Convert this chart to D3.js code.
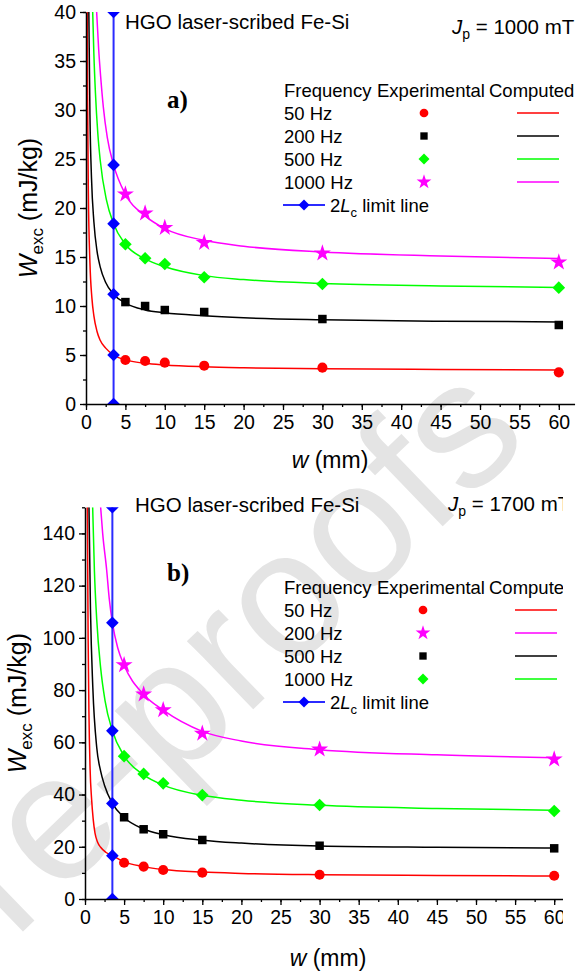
<!DOCTYPE html>
<html>
<head>
<meta charset="utf-8">
<title>Excess loss vs width</title>
<script src="https://d3js.org/d3.v7.min.js"></script>
<style>
  body { margin: 0; background: #fff; }
  text { font-family: "Liberation Sans", Arial, sans-serif; fill: #000; }
</style>
</head>
<body>
<div id="chart"></div>
<script>
// measured widths (mm) and the 2Lc limit
const wExp = [5, 7.5, 10, 15, 30, 60];
const limitW = 3.5;
const freqs = ["50 Hz", "200 Hz", "500 Hz", "1000 Hz"];

// panel a) Jp = 1000 mT, experimental points (mJ/kg)
const expA50 = [4.49, 4.39, 4.22, 3.91, 3.71, 3.23];
const expA200 = [10.4, 10.0, 9.59, 9.39, 8.67, 8.06];
const expA500 = [16.3, 14.87, 14.29, 12.93, 12.24, 11.87];
const expA1000 = [21.4, 19.46, 17.99, 16.46, 15.38, 14.46];
// panel a) computed curves [w, W]
const compA50 = [[0.15, 40], [0.2, 31], [0.3, 21.5], [0.5, 14.4], [0.75, 10.8], [1.0, 9.0], [1.4, 7.4], [1.8, 6.5], [2.5, 5.7], [3.5, 5.0], [5, 4.5], [7.5, 4.15], [10, 3.98], [15, 3.8], [20, 3.7], [30, 3.6], [45, 3.53], [60, 3.48]];
const compA200 = [[0.36, 40], [0.5, 29.5], [0.7, 23], [1.0, 18.6], [1.4, 15.6], [1.8, 14.0], [2.5, 12.4], [3.5, 11.2], [5, 10.3], [7.5, 9.6], [10, 9.3], [15, 9.0], [20, 8.8], [30, 8.6], [45, 8.45], [60, 8.38]];
const compA500 = [[0.85, 40], [1.0, 35.7], [1.2, 31.7], [1.5, 27.6], [1.8, 24.9], [2.6, 20.8], [3.5, 18.4], [5, 16.3], [7.5, 14.8], [10, 14.0], [15, 13.1], [20, 12.7], [30, 12.3], [45, 12.05], [60, 11.9]];
const compA1000 = [[1.35, 40], [1.6, 36.3], [1.86, 33.4], [2.2, 30.3], [2.7, 27.2], [3.5, 24.4], [5, 21.4], [7.5, 19.2], [10, 17.9], [15, 16.7], [20, 16.1], [30, 15.5], [45, 15.1], [60, 14.85]];
const limitA = [0, 5.0, 11.2, 18.4, 24.4, 40];

// panel b) Jp = 1700 mT, experimental points (mJ/kg)
const expB50 = [13.9, 12.4, 11.1, 10.1, 9.3, 8.9];
const expB200 = [89.6, 78.4, 72.4, 63.4, 57.3, 53.5];
const expB500 = [31.3, 26.7, 24.8, 22.6, 20.4, 19.4];
const expB1000 = [54.7, 47.9, 44.3, 39.8, 36.0, 33.7];
// panel b) computed curves [w, W]
const compB50 = [[0.3, 150], [0.4, 100], [0.5, 72], [0.65, 50], [0.85, 38], [1.05, 30.5], [1.28, 25.2], [1.6, 21.8], [2.0, 19.8], [2.7, 17.8], [3.5, 16.6], [5, 14.2], [7.5, 12.4], [10, 11.3], [15, 10.3], [20, 9.8], [30, 9.3], [45, 9.0], [60, 8.8]];
const compB200 = [[2.0, 150], [2.26, 140], [2.77, 126], [3.1, 115], [3.5, 105.8], [4.2, 96], [5, 89.5], [7.5, 78.3], [10, 72.3], [15, 64.2], [20, 60.5], [30, 57.2], [45, 55.2], [60, 54.1]];
const compB500 = [[0.51, 150], [0.7, 111], [1.0, 81], [1.5, 58], [2.0, 49], [2.5, 43.5], [3.5, 36.6], [5, 31.2], [7.5, 26.8], [10, 24.6], [15, 22.5], [20, 21.4], [30, 20.3], [45, 19.8], [60, 19.5]];
const compB1000 = [[0.98, 150], [1.2, 126], [1.5, 107], [2.0, 88.5], [2.56, 76], [3.5, 64.4], [5, 54.8], [7.5, 47.5], [10, 43.6], [15, 39.7], [20, 37.8], [30, 35.9], [45, 34.7], [60, 34.0]];
const limitB = [0, 16.6, 36.6, 64.4, 105.8, 150];

const W = 587, H = 976;
const svg = d3.select("#chart").append("svg")
    .attr("width", W).attr("height", H);

// faint watermark behind everything
svg.append("text")
    .attr("transform", "translate(532,440) rotate(-44)")
    .attr("text-anchor", "end")
    .style("font-size", "180px")
    .style("fill", "#e4e4e4")
    .text("Journal Pre-proofs");

function symbolPath(shape, size) {
    const types = { circle: d3.symbolCircle, square: d3.symbolSquare, diamond: d3.symbolSquare, star: d3.symbolStar };
    return d3.symbol().type(types[shape]).size(size)();
}

function marker(g, shape, color, cx, cy, size) {
    g.append("path")
        .attr("d", symbolPath(shape, size))
        .attr("transform", `translate(${cx},${cy})` + (shape === "diamond" ? " rotate(45)" : ""))
        .attr("fill", color);
}

function drawPanel(p) {
    const root = svg.append("g");
    if (p.cutX) {
        root.append("clipPath").attr("id", p.id + "-cut")
            .append("rect").attr("x", 0).attr("y", 0).attr("width", p.cutX).attr("height", H);
        root.attr("clip-path", `url(#${p.id}-cut)`);
    }
    const g = root.append("g");

    const x = d3.scaleLinear().domain([0, 62]).range([p.left, p.left + 62 * p.pxPerUnit]);
    const y = d3.scaleLinear().domain([0, p.yMax]).range([p.bottom, p.top]);

    g.append("clipPath").attr("id", p.id + "-plot")
        .append("rect")
        .attr("x", x(0)).attr("y", y(p.yMax))
        .attr("width", x(62) - x(0)).attr("height", y(0) - y(p.yMax));

    const plot = g.append("g").attr("clip-path", `url(#${p.id}-plot)`);

    // computed curves
    const line = d3.line().x(d => x(d[0])).y(d => y(d[1])).curve(d3.curveMonotoneX);
    p.series.forEach(s => {
        plot.append("path")
            .datum(s.comp)
            .attr("d", line)
            .attr("fill", "none")
            .attr("stroke", s.color)
            .attr("stroke-width", 1.5);
    });

    // experimental markers
    p.series.forEach(s => {
        s.exp.forEach((v, i) => marker(plot, s.shape, s.color, x(wExp[i]), y(v), s.size));
    });

    // 2Lc limit line
    plot.append("line")
        .attr("x1", x(limitW)).attr("x2", x(limitW))
        .attr("y1", y(0)).attr("y2", y(p.yMax))
        .attr("stroke", "#2b2bff").attr("stroke-width", 2);
    p.limit.forEach(v => marker(plot, "diamond", "#0000ff", x(limitW), y(v), 80));

    // axes
    const xMinor = d3.range(0, 62.01, 2.5);
    const yMinor = d3.range(0, p.yMax + 0.01, p.yStep / 2);
    g.append("g")
        .attr("transform", `translate(0,${y(0)})`)
        .call(d3.axisBottom(x).tickValues(xMinor).tickSize(3).tickSizeOuter(0).tickFormat(""))
        .call(a => a.select(".domain").remove())
        .selectAll("line").attr("stroke-width", 1.3);
    g.append("g")
        .attr("transform", `translate(${x(0)},0)`)
        .call(d3.axisLeft(y).tickValues(yMinor).tickSize(3).tickSizeOuter(0).tickFormat(""))
        .call(a => a.select(".domain").remove())
        .selectAll("line").attr("stroke-width", 1.3);

    const xAx = g.append("g")
        .attr("transform", `translate(0,${y(0)})`)
        .call(d3.axisBottom(x).tickValues(d3.range(0, 61, 5)).tickSize(6).tickSizeOuter(0).tickPadding(5));
    const yAx = g.append("g")
        .attr("transform", `translate(${x(0)},0)`)
        .call(d3.axisLeft(y).tickValues(d3.range(0, p.yLabelMax + 0.01, p.yStep)).tickSize(6).tickSizeOuter(0).tickPadding(4));
    [xAx, yAx].forEach(a => {
        a.selectAll("text").style("font-size", "19.5px").attr("fill", "#000")
            .style("font-family", "'Liberation Sans', Arial, sans-serif");
        a.selectAll("line").attr("stroke-width", 1.3);
        a.select(".domain").attr("stroke-width", 1.5);
    });

    // axis titles
    const yt = g.append("text")
        .attr("transform", `translate(${p.yTitleX},${(y(0) + y(p.yMax)) / 2}) rotate(-90)`)
        .attr("text-anchor", "middle")
        .style("font-size", "25px");
    yt.append("tspan").style("font-style", "italic").text("W");
    yt.append("tspan").attr("dy", 6).style("font-size", "17px").text("exc");
    yt.append("tspan").attr("dy", -6).text(" (mJ/kg)");

    const xt = g.append("text")
        .attr("x", p.xTitleX).attr("y", p.xTitleY)
        .attr("text-anchor", "middle")
        .style("font-size", "23px");
    xt.append("tspan").style("font-style", "italic").text("w");
    xt.append("tspan").text(" (mm)");

    // annotations
    g.append("text").attr("x", p.titleX).attr("y", p.titleY)
        .style("font-size", "20.5px").text("HGO laser-scribed Fe-Si");
    const jp = g.append("text").attr("x", p.jpX).attr("y", p.jpY).style("font-size", "20.5px");
    jp.append("tspan").style("font-style", "italic").text("J");
    jp.append("tspan").attr("dy", 5).style("font-size", "14px").text("p");
    jp.append("tspan").attr("dy", -5).text(` = ${p.jp} mT`);
    g.append("text").attr("x", 167).attr("y", p.tagY)
        .style("font-family", "'Liberation Serif', 'Times New Roman', serif")
        .style("font-weight", "bold").style("font-size", "25px")
        .text(p.tag);

    // legend table
    const L = g.append("g").style("font-size", "18.5px");
    L.append("text").attr("x", 284).attr("y", p.legY + 7).text("Frequency");
    L.append("text").attr("x", 377).attr("y", p.legY + 7).text("Experimental");
    L.append("text").attr("x", 489).attr("y", p.legY + 7).text("Computed");
    p.series.forEach((s, i) => {
        const cy = p.legY + 23 * (i + 1);
        L.append("text").attr("x", 284).attr("y", cy + 7).text(freqs[i]);
        marker(L, s.shape, s.color, p.legMarkX, cy, s.size * 0.75);
        L.append("line").attr("x1", p.legLineX).attr("x2", p.legLineX + 42)
            .attr("y1", cy).attr("y2", cy)
            .attr("stroke", s.color).attr("stroke-width", 1.5);
    });
    const cyL = p.legY + 23 * 5;
    L.append("line").attr("x1", 283).attr("x2", 325).attr("y1", cyL).attr("y2", cyL)
        .attr("stroke", "#2b2bff").attr("stroke-width", 2);
    marker(L, "diamond", "#0000ff", 304, cyL, 60);
    const lt = L.append("text").attr("x", 330).attr("y", cyL + 7);
    lt.append("tspan").text("2");
    lt.append("tspan").style("font-style", "italic").text("L");
    lt.append("tspan").attr("dy", 5).style("font-size", "13px").text("c");
    lt.append("tspan").attr("dy", -5).text(" limit line");
}

drawPanel({
    id: "pa", left: 86, pxPerUnit: 7.88, top: 12, bottom: 404, yMax: 40, yLabelMax: 40, yStep: 5,
    limit: limitA, jp: 1000, tag: "a)", tagY: 108,
    yTitleX: 37, xTitleX: 330, xTitleY: 468,
    titleX: 125, titleY: 29, jpX: 452, jpY: 34,
    legY: 90, legMarkX: 424, legLineX: 517,
    series: [
        { exp: expA50, comp: compA50, color: "#ff0000", shape: "circle", size: 80 },
        { exp: expA200, comp: compA200, color: "#000000", shape: "square", size: 72 },
        { exp: expA500, comp: compA500, color: "#00ff00", shape: "diamond", size: 80 },
        { exp: expA1000, comp: compA1000, color: "#ff00ff", shape: "star", size: 90 }
    ]
});

drawPanel({
    id: "pb", left: 85, pxPerUnit: 7.82, top: 507.3, bottom: 899, yMax: 150, yLabelMax: 140, yStep: 20,
    limit: limitB, jp: 1700, tag: "b)", tagY: 581, cutX: 563,
    yTitleX: 26, xTitleX: 328, xTitleY: 966,
    titleX: 135, titleY: 512, jpX: 448, jpY: 511,
    legY: 587, legMarkX: 423, legLineX: 515,
    series: [
        { exp: expB50, comp: compB50, color: "#ff0000", shape: "circle", size: 80 },
        { exp: expB200, comp: compB200, color: "#ff00ff", shape: "star", size: 90 },
        { exp: expB500, comp: compB500, color: "#000000", shape: "square", size: 72 },
        { exp: expB1000, comp: compB1000, color: "#00ff00", shape: "diamond", size: 80 }
    ]
});
</script>
</body>
</html>
